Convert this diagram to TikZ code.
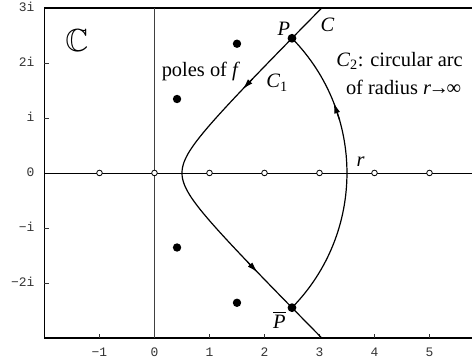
\documentclass[tikz,border=0pt]{standalone}
\usepackage{amssymb}
\usepackage{fontspec}
\setmainfont{Liberation Serif}
\newfontfamily\tickfont{Liberation Mono}
\usetikzlibrary{arrows.meta}
\begin{document}
\begin{tikzpicture}[x=55bp,y=55bp,
  lbl/.style={font=\fontsize{20.5}{24}\selectfont, inner sep=0pt},
  ticklbl/.style={font=\tickfont\fontsize{13}{15}\selectfont, text=black!80, inner sep=0pt},
  pole/.style={fill=black, draw=none},
  opendot/.style={fill=white, draw=black, line width=0.8bp},
  curve/.style={line width=1.2bp},
  dirtip/.style={line width=1.2bp, -{Latex[length=11bp,width=6bp]}},
  frameline/.style={line width=1.2bp},
  axisline/.style={line width=0.9bp},
  tickmark/.style={line width=0.7bp, black!80}
]
\useasboundingbox (-2.809,-3.436) rectangle (5.773,3.145);
% frame
\draw[frameline] (5.9,3) -- (-2,3) -- (-2,-3) -- (5.9,-3);
% ticks
\foreach \k in {-1,...,5} \draw[tickmark] (\k,-3) -- (\k,-2.927);
\foreach \k in {-2,...,2} \draw[tickmark] (-2,\k) -- (-1.927,\k);
% tick labels
\node[ticklbl, anchor=base east] (y3) at (-2.18,2.927) {3i};
\node[ticklbl, anchor=base east] (y2) at (-2.18,1.927) {2i};
\node[ticklbl, anchor=base east] (y1) at (-2.18,0.927) {i};
\node[ticklbl, anchor=base east] (y0) at (-2.18,-0.073) {0};
\node[ticklbl, anchor=base east] (ym1) at (-2.18,-1.073) {−i};
\node[ticklbl, anchor=base east] (ym2) at (-2.18,-2.073) {−2i};
\foreach \k/\t in {-1/−1,0/0,1/1,2/2,3/3,4/4,5/5}
  \node[ticklbl, anchor=base] (x\k) at (\k,-3.345) {\t};
% axes
\draw[axisline] (-2,0) -- (5.9,0);
\draw[axisline, black!75] (0,-3) -- (0,3);
% hyperbola C
\draw[curve] plot[domain=3:-3, samples=121, smooth] ({sqrt(\x*\x+0.25)},{\x});
\coordinate (a1s) at (1.790,1.72);
\coordinate (a1e) at (1.600,1.52);
\draw[dirtip] (a1s) -- (a1e);
\coordinate (a2s) at (1.685,-1.61);
\coordinate (a2e) at (1.878,-1.81);
\draw[dirtip] (a2s) -- (a2e);
% arc C2
\coordinate (P) at (2.5,2.449);
\coordinate (Pb) at (2.5,-2.449);
\draw[curve] (Pb) arc[start angle=-44.41, end angle=44.41, radius=3.5];
\coordinate (a3s) at (16:3.5);
\coordinate (a3e) at (21.5:3.5);
\draw[dirtip] (a3s) -- (a3e);
% open circles on real axis
\foreach \k in {-1,...,5} \draw[opendot] (\k,0) circle[radius=2.8bp];
% poles
\foreach \p in {(0.41,1.345),(1.5,2.35),(0.41,-1.355),(1.5,-2.36)}
  \fill[pole] \p circle[radius=4.2bp];
\fill[pole] (P) circle[radius=4.4bp];
\fill[pole] (Pb) circle[radius=4.4bp];
% labels
\node[font=\fontsize{32}{36}\selectfont, inner sep=0pt] (CC) at (-1.41,2.4) {$\mathbb{C}$};
\node[lbl] (poles) at (0.845,1.85) {poles of \textit{f}};
\node[lbl] (Plbl) at (2.35,2.62) {\textit{P}};
\node[lbl] (Clbl) at (3.145,2.7) {\textit{C}};
\node[lbl] (C1lbl) at (2.23,1.64) {\textit{C}\textsubscript{1}};
\node[lbl] (C2a) at (4.455,2.03) {\textit{C}\textsubscript{2}: circular arc};
\node[lbl] (C2b) at (4.53,1.56) {of radius \textit{r}\kern-0.12em→\kern-0.12em∞};
\node[lbl] (rlbl) at (3.75,0.2) {\textit{r}};
\node[lbl] (Pblbl) at (2.27,-2.67) {$\overline{\mbox{\textit{P}}}$};
\end{tikzpicture}
\end{document}
